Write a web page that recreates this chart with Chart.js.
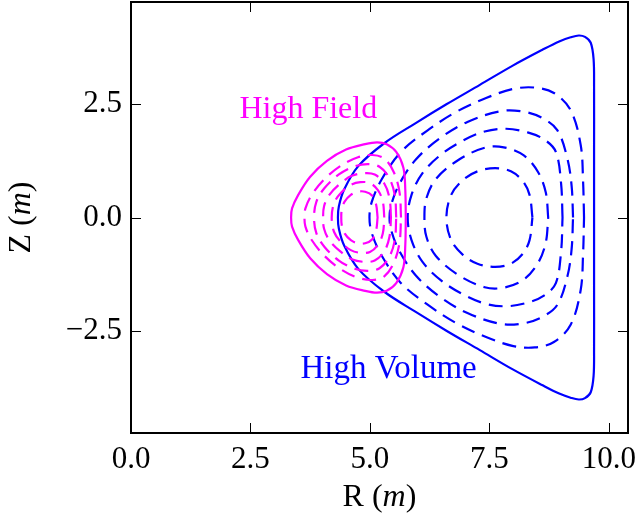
<!DOCTYPE html>
<html>
<head>
<meta charset="utf-8">
<script src="https://cdn.jsdelivr.net/npm/chart.js@4.4.1/dist/chart.umd.min.js"></script>
<style>
  html, body { margin: 0; padding: 0; background: #fff; }
  #wrap { width: 641px; height: 520px; }
</style>
</head>
<body>
<div id="wrap"><canvas id="fluxChart"></canvas></div>
<script>
"use strict";

// axis ticks
const xTicks = [0, 2.5, 5, 7.5, 10];
const yTicks = [-2.5, 0, 2.5];

// high volume plasma: last closed surface and inner flux surfaces, [R, Z] in metres
const volumeEdge = [[9.69,0],[9.69,1.5],[9.69,2.9],[9.68,3.5],[9.62,3.86],[9.5,3.99],[9.37,4.02],[9.2,3.98],[8.96,3.89],[8.6,3.7],[7.98,3.35],[7.3,2.93],[6.6,2.5],[5.95,2.08],[5.3,1.64],[4.76,1.14],[4.46,0.62],[4.35,0.25],[4.33,0],
  [4.35,-0.25],[4.46,-0.62],[4.76,-1.14],[5.3,-1.64],[5.95,-2.08],[6.6,-2.5],[7.3,-2.93],[7.98,-3.35],[8.6,-3.7],[8.96,-3.89],[9.2,-3.98],[9.37,-4.02],[9.5,-3.99],[9.62,-3.86],[9.68,-3.5],[9.69,-2.9],[9.69,-1.5],[9.69,0]];
const volumeRing5 = [[9.48,0],[9.46,0.8],[9.41,1.6],[9.2,2.37],[8.85,2.75],[8.45,2.87],[8.0,2.84],[7.43,2.64],[6.8,2.33],[6.2,1.92],[5.65,1.45],[5.25,0.85],[5.04,0.35],[4.99,0],
  [5.04,-0.35],[5.25,-0.85],[5.65,-1.45],[6.2,-1.92],[6.8,-2.33],[7.43,-2.64],[8.0,-2.84],[8.45,-2.87],[8.85,-2.75],[9.2,-2.37],[9.41,-1.6],[9.46,-0.8],[9.48,0]];
const volumeRing4 = [[9.25,0],[9.22,0.7],[9.13,1.31],[8.92,1.93],[8.6,2.2],[8.2,2.34],[7.74,2.35],[7.04,2.11],[6.45,1.74],[5.96,1.28],[5.62,0.75],[5.45,0.3],[5.41,0],
  [5.45,-0.3],[5.62,-0.75],[5.96,-1.28],[6.45,-1.74],[7.04,-2.11],[7.74,-2.35],[8.2,-2.34],[8.6,-2.2],[8.92,-1.93],[9.13,-1.31],[9.22,-0.7],[9.25,0]];
const volumeRing3 = [[9.03,0],[9.0,0.75],[8.89,1.45],[8.65,1.72],[8.3,1.88],[7.85,1.96],[7.4,1.9],[6.95,1.7],[6.5,1.4],[6.1,0.98],[5.87,0.5],[5.79,0],
  [5.87,-0.5],[6.1,-0.98],[6.5,-1.4],[6.95,-1.7],[7.4,-1.9],[7.85,-1.96],[8.3,-1.88],[8.65,-1.72],[8.89,-1.45],[9.0,-0.75],[9.03,0]];
const volumeRing2 = [[8.73,0],[8.68,0.55],[8.52,1.0],[8.22,1.37],[7.8,1.55],[7.4,1.54],[6.85,1.27],[6.38,0.85],[6.18,0.42],[6.14,0],
  [6.18,-0.42],[6.38,-0.85],[6.85,-1.27],[7.4,-1.54],[7.8,-1.55],[8.22,-1.37],[8.52,-1.0],[8.68,-0.55],[8.73,0]];
const volumeRing1 = [[8.4,0],[8.34,0.5],[8.2,0.8],[7.95,1.02],[7.62,1.09],[7.25,1.02],[6.95,0.83],[6.7,0.5],[6.6,0],
  [6.7,-0.5],[6.95,-0.83],[7.25,-1.02],[7.62,-1.09],[7.95,-1.02],[8.2,-0.8],[8.34,-0.5],[8.4,0]];

// high field plasma
const fieldEdge = [[5.75,0],[5.74,0.6],[5.7,1.1],[5.55,1.45],[5.35,1.62],[5.15,1.66],[4.9,1.62],[4.5,1.5],[4.1,1.25],[3.75,0.9],[3.5,0.5],[3.37,0.2],[3.35,0],
  [3.37,-0.2],[3.5,-0.5],[3.75,-0.9],[4.1,-1.25],[4.5,-1.5],[4.9,-1.62],[5.15,-1.66],[5.35,-1.62],[5.55,-1.45],[5.7,-1.1],[5.74,-0.6],[5.75,0]];
const fieldRing5 = [[5.65,0],[5.62,0.55],[5.5,1.0],[5.3,1.3],[5.05,1.38],[4.75,1.33],[4.4,1.15],[4.05,0.85],[3.77,0.48],[3.65,0.2],[3.63,0],
  [3.65,-0.2],[3.77,-0.48],[4.05,-0.85],[4.4,-1.15],[4.75,-1.33],[5.05,-1.38],[5.3,-1.3],[5.5,-1.0],[5.62,-0.55],[5.65,0]];
const fieldRing4 = [[5.55,0],[5.52,0.5],[5.4,0.88],[5.2,1.12],[4.95,1.18],[4.65,1.12],[4.35,0.95],[4.05,0.65],[3.88,0.35],[3.83,0],
  [3.88,-0.35],[4.05,-0.65],[4.35,-0.95],[4.65,-1.12],[4.95,-1.18],[5.2,-1.12],[5.4,-0.88],[5.52,-0.5],[5.55,0]];
const fieldRing3 = [[5.44,0],[5.41,0.42],[5.3,0.75],[5.1,0.95],[4.88,0.98],[4.62,0.92],[4.38,0.75],[4.15,0.5],[4.04,0.25],[4.02,0],
  [4.04,-0.25],[4.15,-0.5],[4.38,-0.75],[4.62,-0.92],[4.88,-0.98],[5.1,-0.95],[5.3,-0.75],[5.41,-0.42],[5.44,0]];
const fieldRing2 = [[5.3,0],[5.27,0.35],[5.17,0.6],[5.0,0.76],[4.8,0.78],[4.6,0.72],[4.4,0.55],[4.25,0.32],[4.2,0],
  [4.25,-0.32],[4.4,-0.55],[4.6,-0.72],[4.8,-0.78],[5.0,-0.76],[5.17,-0.6],[5.27,-0.35],[5.3,0]];
const fieldRing1 = [[5.16,0],[5.13,0.28],[5.05,0.48],[4.9,0.57],[4.75,0.57],[4.6,0.5],[4.47,0.35],[4.41,0.17],[4.4,0],
  [4.41,-0.17],[4.47,-0.35],[4.6,-0.5],[4.75,-0.57],[4.9,-0.57],[5.05,-0.48],[5.13,-0.28],[5.16,0]];

const BLUE = '#0000ff';
const MAGENTA = '#ff00ff';
const SERIF = '"Liberation Serif", "DejaVu Serif", serif';

function surface(points, color, dashed) {
    return {
        data: points.map(p => ({ x: p[0], y: p[1] })),
        showLine: true,
        borderColor: color,
        borderWidth: 2.2,
        borderDash: dashed ? [14, 8] : [],
        pointRadius: 0,
        tension: 0.35,
        fill: false
    };
}

// frame with inward ticks, the two labels and the axis titles
const framePlugin = {
    id: 'frame',
    afterDraw(chart) {
        const { ctx, chartArea: a, scales: { x, y } } = chart;
        ctx.save();
        ctx.strokeStyle = '#000';
        ctx.lineWidth = 1;
        ctx.beginPath();
        xTicks.forEach(v => {
            const px = Math.round(x.getPixelForValue(v)) + 0.5;
            ctx.moveTo(px, a.bottom); ctx.lineTo(px, a.bottom - 10);
            ctx.moveTo(px, a.top); ctx.lineTo(px, a.top + 10);
        });
        yTicks.forEach(v => {
            const py = Math.round(y.getPixelForValue(v)) + 0.5;
            ctx.moveTo(a.left, py); ctx.lineTo(a.left + 10, py);
            ctx.moveTo(a.right, py); ctx.lineTo(a.right - 10, py);
        });
        ctx.stroke();
        ctx.lineWidth = 2;
        ctx.strokeRect(a.left, a.top, a.right - a.left, a.bottom - a.top);

        ctx.textAlign = 'center';
        ctx.textBaseline = 'alphabetic';
        ctx.font = '32px ' + SERIF;
        ctx.fillStyle = MAGENTA;
        ctx.fillText('High Field', x.getPixelForValue(3.71), y.getPixelForValue(2.2));
        ctx.fillStyle = BLUE;
        ctx.font = '33px ' + SERIF;
        ctx.fillText('High Volume', x.getPixelForValue(5.39), y.getPixelForValue(-3.54));

        ctx.fillStyle = '#000';
        drawTitle(ctx, 'R', (a.left + a.right) / 2, 498, 0);
        drawTitle(ctx, 'Z', 22, (a.top + a.bottom) / 2, -Math.PI / 2);
        ctx.restore();
    }
};

function drawTitle(ctx, letter, cx, cy, angle) {
    const upright = '32px ' + SERIF;
    const slanted = 'italic 32px ' + SERIF;
    const parts = [[letter + ' (', upright], ['m', slanted], [')', upright]];
    let total = 0;
    parts.forEach(p => { ctx.font = p[1]; total += ctx.measureText(p[0]).width; });
    ctx.save();
    ctx.translate(cx, cy);
    ctx.rotate(angle);
    ctx.textAlign = 'left';
    ctx.textBaseline = 'middle';
    let pos = -total / 2;
    parts.forEach(p => {
        ctx.font = p[1];
        ctx.fillText(p[0], pos, 0);
        pos += ctx.measureText(p[0]).width;
    });
    ctx.restore();
}

const tickLabel = v => Number(v).toFixed(1).replace('-', '\u2212');

new Chart(document.getElementById('fluxChart'), {
    type: 'scatter',
    data: {
        datasets: [
            surface(fieldEdge, MAGENTA, false),
            surface(fieldRing5, MAGENTA, true),
            surface(fieldRing4, MAGENTA, true),
            surface(fieldRing3, MAGENTA, true),
            surface(fieldRing2, MAGENTA, true),
            surface(fieldRing1, MAGENTA, true),
            surface(volumeEdge, BLUE, false),
            surface(volumeRing5, BLUE, true),
            surface(volumeRing4, BLUE, true),
            surface(volumeRing3, BLUE, true),
            surface(volumeRing2, BLUE, true),
            surface(volumeRing1, BLUE, true)
        ]
    },
    options: {
        responsive: true,
        maintainAspectRatio: false,
        animation: false,
        layout: { padding: { left: 0, right: 13, top: 2, bottom: 0 } },
        plugins: { legend: { display: false }, tooltip: { enabled: false } },
        scales: {
            x: {
                type: 'linear',
                min: 0,
                max: 10.4,
                afterBuildTicks: s => { s.ticks = xTicks.map(v => ({ value: v })); },
                afterFit: s => { s.height = 87; s.paddingLeft = 0; s.paddingRight = 0; },
                grid: { display: false, drawTicks: false },
                border: { display: false },
                ticks: { color: '#000', padding: 8, maxRotation: 0, autoSkip: false,
                         font: { family: SERIF, size: 31 }, callback: tickLabel }
            },
            y: {
                type: 'linear',
                min: -4.76,
                max: 4.76,
                afterBuildTicks: s => { s.ticks = yTicks.map(v => ({ value: v })); },
                afterFit: s => { s.width = 131; s.paddingTop = 0; s.paddingBottom = 0; },
                grid: { display: false, drawTicks: false },
                border: { display: false },
                ticks: { color: '#000', padding: 9, autoSkip: false,
                         font: { family: SERIF, size: 31 }, callback: tickLabel }
            }
        }
    },
    plugins: [framePlugin]
});
</script>
</body>
</html>
